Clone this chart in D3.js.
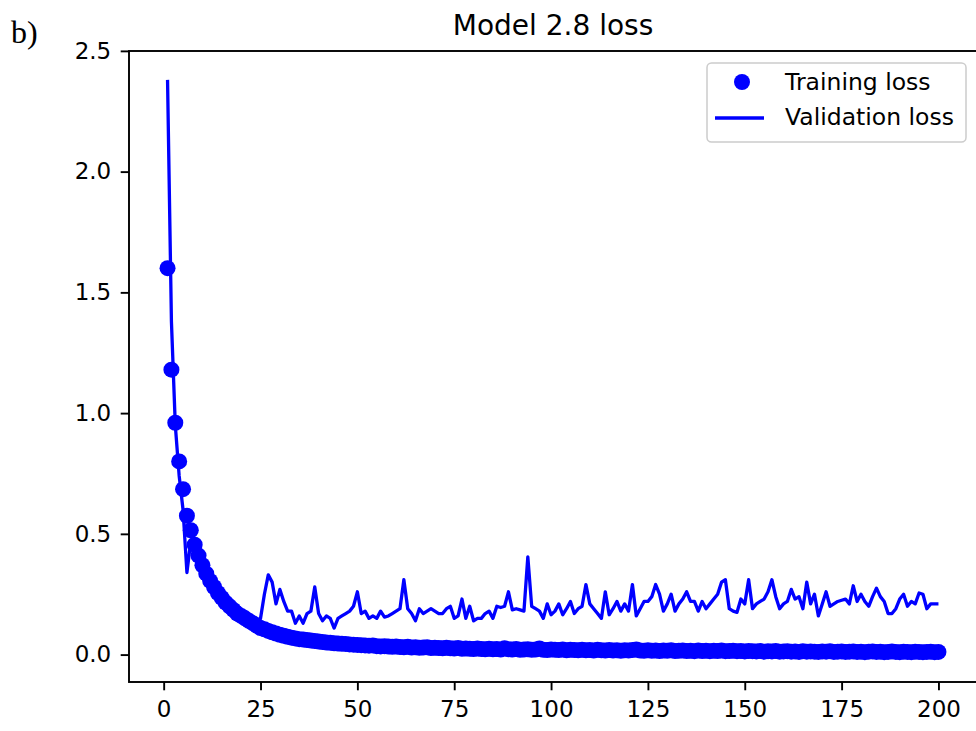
<!DOCTYPE html>
<html>
<head>
<meta charset="utf-8">
<script src="https://cdnjs.cloudflare.com/ajax/libs/d3/7.8.5/d3.min.js"></script>
<style>
  body { margin: 0; background: #fff; }
  text { font-family: "DejaVu Sans", sans-serif; fill: #000; }
</style>
</head>
<body>
<div id="loss-chart"></div>
<script>
// Model 2.8 loss - training vs validation

const epochs = d3.range(1, 201);

const trainingLoss = [
  1.60, 1.18, 0.96, 0.80, 0.685, 0.575, 0.515, 0.455, 0.41, 0.37,
  0.335, 0.305, 0.28, 0.255, 0.235, 0.215, 0.20, 0.185, 0.17, 0.16,
  0.15, 0.14, 0.13, 0.12, 0.11, 0.105, 0.098, 0.092, 0.087, 0.082,
  0.078, 0.074, 0.070, 0.067, 0.064, 0.062, 0.060, 0.058, 0.056, 0.054,
  0.052, 0.050, 0.049, 0.047, 0.046, 0.045, 0.044, 0.042, 0.041, 0.040,
  0.039, 0.038, 0.037, 0.038, 0.035, 0.034, 0.035, 0.033, 0.032, 0.033,
  0.031, 0.030, 0.032, 0.029, 0.030, 0.028, 0.029, 0.030, 0.027, 0.028,
  0.027, 0.026, 0.028, 0.026, 0.025, 0.027, 0.024, 0.025, 0.024, 0.023,
  0.025, 0.023, 0.022, 0.024, 0.022, 0.023, 0.021, 0.026, 0.022, 0.021,
  0.023, 0.020, 0.021, 0.022, 0.020, 0.021, 0.025, 0.020, 0.019, 0.021,
  0.020, 0.019, 0.021, 0.018, 0.020, 0.019, 0.018, 0.020, 0.018, 0.019,
  0.017, 0.020, 0.018, 0.017, 0.019, 0.017, 0.018, 0.016, 0.018, 0.017,
  0.019, 0.021, 0.017, 0.016, 0.018, 0.016, 0.017, 0.015, 0.017, 0.016,
  0.018, 0.015, 0.016, 0.017, 0.015, 0.016, 0.014, 0.017, 0.015, 0.016,
  0.014, 0.016, 0.015, 0.017, 0.014, 0.015, 0.016, 0.014, 0.015, 0.013,
  0.015, 0.014, 0.013, 0.015, 0.012, 0.014, 0.013, 0.015, 0.012, 0.013,
  0.014, 0.012, 0.013, 0.011, 0.014, 0.012, 0.013, 0.012, 0.011, 0.013,
  0.012, 0.014, 0.011, 0.012, 0.013, 0.011, 0.012, 0.013, 0.011, 0.012,
  0.010, 0.012, 0.013, 0.011, 0.012, 0.010, 0.011, 0.013, 0.011, 0.010,
  0.012, 0.011, 0.010, 0.012, 0.011, 0.010, 0.011, 0.012, 0.010, 0.011
];

const validationLoss = [
  2.38, 1.38, 0.95, 0.74, 0.60, 0.34, 0.47, 0.40, 0.43, 0.36,
  0.31, 0.28, 0.25, 0.23, 0.21, 0.19, 0.18, 0.17, 0.16, 0.16,
  0.16, 0.16, 0.15, 0.14, 0.15, 0.25, 0.33, 0.30, 0.21, 0.27,
  0.22, 0.18, 0.18, 0.13, 0.16, 0.13, 0.17, 0.18, 0.28, 0.17,
  0.14, 0.16, 0.15, 0.11, 0.15, 0.16, 0.17, 0.18, 0.20, 0.26,
  0.17, 0.18, 0.15, 0.16, 0.15, 0.18, 0.155, 0.16, 0.17, 0.18,
  0.19, 0.31, 0.19, 0.17, 0.14, 0.19, 0.17, 0.18, 0.19, 0.18,
  0.17, 0.17, 0.19, 0.20, 0.15, 0.16, 0.23, 0.15, 0.20, 0.14,
  0.15, 0.15, 0.17, 0.18, 0.15, 0.20, 0.195, 0.20, 0.26, 0.185,
  0.19, 0.185, 0.18, 0.405, 0.20, 0.19, 0.18, 0.15, 0.21, 0.165,
  0.18, 0.21, 0.165, 0.19, 0.22, 0.17, 0.19, 0.20, 0.29, 0.21,
  0.19, 0.17, 0.15, 0.26, 0.165, 0.19, 0.22, 0.18, 0.21, 0.18,
  0.29, 0.16, 0.19, 0.22, 0.22, 0.24, 0.29, 0.25, 0.18, 0.21,
  0.25, 0.18, 0.21, 0.23, 0.26, 0.22, 0.22, 0.18, 0.22, 0.19,
  0.21, 0.23, 0.25, 0.30, 0.31, 0.19, 0.18, 0.175, 0.23, 0.21,
  0.31, 0.19, 0.21, 0.22, 0.23, 0.26, 0.31, 0.24, 0.19, 0.21,
  0.22, 0.27, 0.23, 0.24, 0.19, 0.30, 0.21, 0.25, 0.16, 0.21,
  0.26, 0.20, 0.21, 0.22, 0.225, 0.23, 0.21, 0.285, 0.22, 0.25,
  0.22, 0.20, 0.24, 0.275, 0.24, 0.22, 0.17, 0.17, 0.19, 0.23,
  0.25, 0.20, 0.22, 0.21, 0.255, 0.25, 0.19, 0.21, 0.21, 0.21
];

const xTicks = [0, 25, 50, 75, 100, 125, 150, 175, 200];
const yTicks = [0.0, 0.5, 1.0, 1.5, 2.0, 2.5];
const seriesNames = ["Training loss", "Validation loss"];

function createLossChart() {
    const width = 976, height = 731;
    const plot = {left: 129, right: 977, top: 51, bottom: 682};
    const blue = "#0000ff";

    const svg = d3.select("#loss-chart")
        .append("svg")
        .attr("width", width)
        .attr("height", height);

    // Scales (matplotlib-style 5% margins)
    const x = d3.scaleLinear()
        .domain([-8.95, 209.95])
        .range([plot.left, plot.right]);

    const y = d3.scaleLinear()
        .domain([-0.1135, 2.4995])
        .range([plot.bottom, plot.top]);

    // Panel label
    svg.append("text")
        .attr("x", 11)
        .attr("y", 43)
        .style("font-family", "'Liberation Serif', 'Times New Roman', serif")
        .style("font-size", "32px")
        .text("b)");

    // Title
    svg.append("text")
        .attr("x", (plot.left + plot.right) / 2)
        .attr("y", 35)
        .attr("text-anchor", "middle")
        .style("font-size", "28px")
        .text("Model 2.8 loss");

    // Training dots
    svg.append("g")
        .selectAll("circle")
        .data(epochs)
        .enter()
        .append("circle")
        .attr("cx", d => x(d))
        .attr("cy", (d, i) => y(trainingLoss[i]))
        .attr("r", 8)
        .attr("fill", blue);

    // Validation line
    const line = d3.line()
        .x(d => x(d))
        .y((d, i) => y(validationLoss[i]));

    svg.append("path")
        .datum(epochs)
        .attr("d", line)
        .attr("fill", "none")
        .attr("stroke", blue)
        .attr("stroke-width", 3.3)
        .attr("stroke-linejoin", "round");

    // Axes
    const xAxis = svg.append("g")
        .attr("transform", `translate(0,${plot.bottom})`)
        .call(d3.axisBottom(x).tickValues(xTicks).tickSize(8.3).tickSizeOuter(0).tickPadding(10.5));

    const yAxis = svg.append("g")
        .attr("transform", `translate(${plot.left},0)`)
        .call(d3.axisLeft(y).tickValues(yTicks).tickFormat(d3.format(".1f"))
            .tickSize(8.3).tickSizeOuter(0).tickPadding(9.5));

    [xAxis, yAxis].forEach(g => {
        g.select(".domain").remove();
        g.selectAll(".tick line").attr("stroke", "#000").attr("stroke-width", 1.9);
        g.selectAll(".tick text")
            .attr("fill", "#000")
            .style("font-family", "'DejaVu Sans', sans-serif")
            .style("font-size", "23px");
    });

    // Frame
    svg.append("rect")
        .attr("x", plot.left)
        .attr("y", plot.top)
        .attr("width", plot.right - plot.left)
        .attr("height", plot.bottom - plot.top)
        .attr("fill", "none")
        .attr("stroke", "#000")
        .attr("stroke-width", 1.9);

    // Legend
    const legend = svg.append("g")
        .attr("transform", "translate(707,63)");

    legend.append("rect")
        .attr("width", 259)
        .attr("height", 79)
        .attr("rx", 4.5)
        .attr("fill", "#fff")
        .attr("fill-opacity", 0.8)
        .attr("stroke", "#cccccc")
        .attr("stroke-width", 1.5);

    legend.append("circle")
        .attr("cx", 35)
        .attr("cy", 19)
        .attr("r", 8)
        .attr("fill", blue);

    legend.append("line")
        .attr("x1", 8)
        .attr("x2", 57)
        .attr("y1", 55)
        .attr("y2", 55)
        .attr("stroke", blue)
        .attr("stroke-width", 3.3);

    legend.selectAll(".legend-label")
        .data(seriesNames)
        .enter()
        .append("text")
        .attr("class", "legend-label")
        .attr("x", 78)
        .attr("y", (d, i) => 27 + i * 35)
        .style("font-size", "23.5px")
        .text(d => d);
}

document.addEventListener('DOMContentLoaded', createLossChart);
</script>
</body>
</html>
